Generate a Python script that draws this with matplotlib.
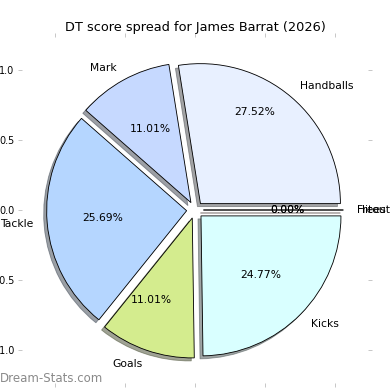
import matplotlib
matplotlib.use('Agg')
import matplotlib.pyplot as plt

# 数据
labels = ['Handballs', 'Mark', 'Tackle', 'Goals', 'Kicks', 'Hitouts', 'Frees']
values = [27.52, 11.01, 25.69, 11.01, 24.77, 0.0, 0.0]
colors = ['#e8f0ff', '#c6d9ff', '#b5d6ff', '#d4ec8e', '#d9ffff', '#ffe0c0', '#ffd0d0']
ticks = [-1.0, -0.5, 0.0, 0.5, 1.0]

DPI = 77
fig = plt.figure(figsize=(390 / DPI, 390 / DPI), dpi=DPI)
ax = fig.add_axes([22 / 390, 7 / 390, 346 / 390, 346 / 390])

# 饼图
wedges, texts, autotexts = ax.pie(values, labels=labels, colors=colors,
                                  explode=[0.06] * len(values), shadow=True,
                                  autopct='%1.2f%%', frame=True,
                                  wedgeprops={'edgecolor': 'black', 'linewidth': 0.8})

# 百分比标签微调
x, y = autotexts[0].get_position()
autotexts[0].set_position((x, y + 0.2))
x, y = autotexts[3].get_position()
autotexts[3].set_position((x - 0.1, y - 0.02))

ax.set_xlim(-1.236, 1.236)
ax.set_ylim(-1.236, 1.236)
ax.set_xticks(ticks)
ax.set_yticks(ticks)
ax.tick_params(top=True, right=True, color='#c0c0c0', length=3.5, labelsize=9)
for s in ax.spines.values():
    s.set_visible(False)

ax.set_title('DT score spread for James Barrat (2026)', fontsize=12)

# 水印
fig.text(0.0, 0.012, 'Dream-Stats.com', fontsize=11, color='#8a8a8a', ha='left', va='bottom')

plt.savefig('out.png', dpi=DPI)
